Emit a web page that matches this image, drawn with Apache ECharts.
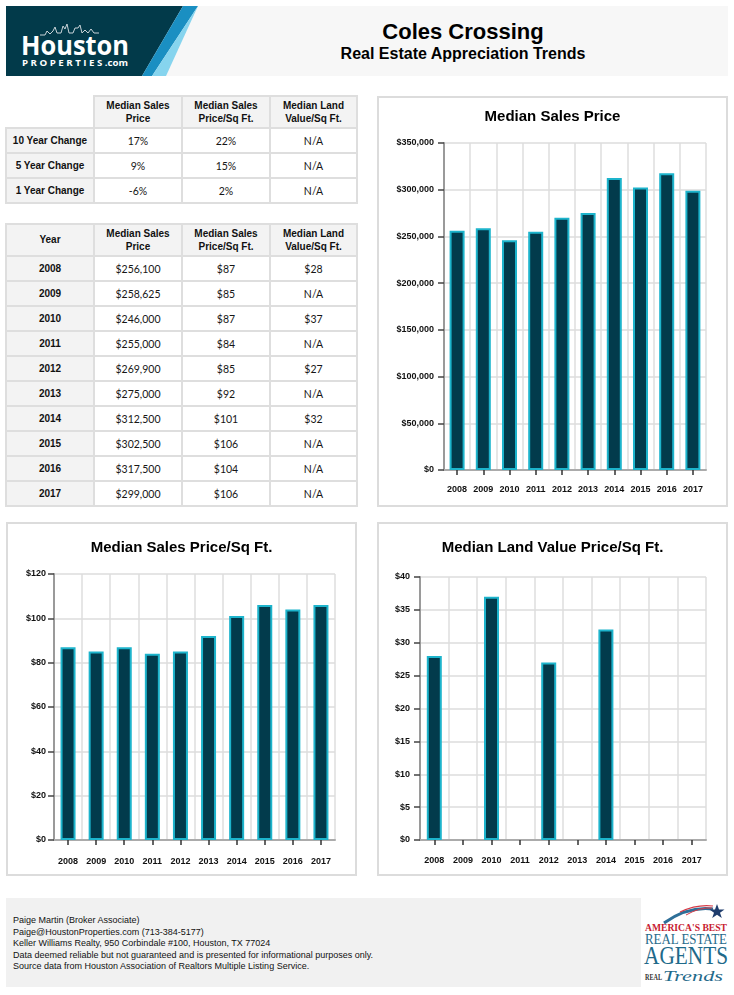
<!DOCTYPE html>
<html>
<head>
<meta charset="utf-8">
<script src="https://cdn.jsdelivr.net/npm/echarts@6.0.0/dist/echarts.min.js"></script>
<style>
  html, body { margin:0; padding:0; background:#fff; }
  body { width:734px; height:995px; position:relative; overflow:hidden; font-family:'Liberation Sans', Arial, sans-serif; }
  .abs { position:absolute; }
  .cell { position:absolute; box-sizing:border-box; border:2px solid #dedede; display:flex; align-items:center; justify-content:center; text-align:center;
          font-family:'Lato', sans-serif; font-size:10.5px; color:#161616; white-space:pre-line; line-height:12.5px; background:#fff; padding-top:1px; }
  .hd { background:#f3f3f3; font-family:'Liberation Sans', Arial, sans-serif; font-weight:bold; font-size:10px; color:#111; }
  .panel { position:absolute; box-sizing:border-box; border:2px solid #dcdcdc; background:#fff; }
  #chart { position:absolute; left:0; top:0; width:734px; height:995px; z-index:5; }
  .ttl { position:absolute; font-family:'Liberation Sans', Arial, sans-serif; font-weight:bold; color:#000; white-space:nowrap; transform:translateX(-50%); }
  #footer { position:absolute; left:6px; top:898px; width:635px; height:89px; background:#f1f1f1; }
  #footText { position:absolute; left:13px; top:915px; font-family:'Liberation Sans', Arial, sans-serif; font-size:9px; line-height:11.5px; color:#111; white-space:pre; }
</style>
</head>
<body>
<svg class="abs" style="left:0;top:0" width="734" height="80">
  <rect x="6" y="6" width="722" height="70" fill="#f7f7f7"/>
  <polygon points="6,6 183,6 142,76 6,76" fill="#023a4a"/>
  <polygon points="183,6 198,6 152,76 142,76" fill="#1a8fc2"/>
  <polygon points="198,6 166,76 152,76" fill="#86d4ee"/>
  <polyline points="40,35 45,35 47,31 50,34 53,31 55,27 57,33 61,33 63,26 65,29 67,24 69,33 73,33 75,28 78,28 80,25 82,33 85,30 88,33 91,29 94,33 99,33" fill="none" stroke="#c9d3d8" stroke-width="1"/>
  <text x="21" y="55" fill="#ffffff" font-family="'Open Sans', 'DejaVu Sans', sans-serif" font-weight="700" font-size="27" textLength="108" lengthAdjust="spacingAndGlyphs">Houston</text>
  <text x="22" y="66" fill="#ffffff" font-family="'Open Sans', 'DejaVu Sans', sans-serif" font-weight="700" font-size="9.5" textLength="106" lengthAdjust="spacingAndGlyphs">P R O P E R T I E S .com</text>
</svg>
<div class="ttl" id="mainTitle" style="left:463px; top:19px; font-size:22px;"></div>
<div class="ttl" id="subTitle" style="left:463px; top:45px; font-size:16px;"></div>

<div id="tables"></div>

<div class="panel" style="left:377px; top:96px; width:351px; height:411px;"></div>
<div class="panel" style="left:6px; top:522px; width:351px; height:354px;"></div>
<div class="panel" style="left:377px; top:522px; width:351px; height:354px;"></div>

<div id="footer"></div>
<div id="footText"></div>
<svg class="abs" style="left:0;top:0" width="734" height="995" pointer-events="none">
  <rect x="641" y="898" width="87" height="89" fill="#ffffff"/>
  <path d="M664,923 Q688,906 713,909" fill="none" stroke="#2e6f98" stroke-width="3"/>
  <path d="M680,912 Q697,904 713,906" fill="none" stroke="#d63b47" stroke-width="1.2"/>
  <path d="M686,915 Q700,907 712,908" fill="none" stroke="#d63b47" stroke-width="1"/>
  <polygon points="717,904 719,909.5 724.5,909.5 720,912.8 721.8,918 717,914.8 712.2,918 714,912.8 709.5,909.5 715,909.5" fill="#1f3d6d"/>
  <text x="645" y="931" fill="#c8202f" font-family="'Liberation Serif', 'DejaVu Serif', serif" font-weight="bold" font-size="11" textLength="82" lengthAdjust="spacingAndGlyphs">AMERICA'S BEST</text>
  <text x="645" y="944" fill="#1f6a8a" font-family="'Liberation Serif', 'DejaVu Serif', serif" font-size="14" textLength="82" lengthAdjust="spacingAndGlyphs">REAL ESTATE</text>
  <text x="644" y="964" fill="#1f6a8a" font-family="'Liberation Serif', 'DejaVu Serif', serif" font-size="25" textLength="84" lengthAdjust="spacingAndGlyphs">AGENTS</text>
  <text x="645" y="980" fill="#333" font-family="'Liberation Serif', 'DejaVu Serif', serif" font-weight="bold" font-size="8" textLength="17" lengthAdjust="spacingAndGlyphs">REAL</text>
  <text x="663" y="981" fill="#1f6a8a" font-family="'Liberation Serif', 'DejaVu Serif', serif" font-style="italic" font-size="14" textLength="60" lengthAdjust="spacingAndGlyphs">Trends</text>
</svg>

<div id="chart"></div>

<script>
// ---------------- DATA ----------------
const pageTitle = 'Coles Crossing';
const pageSubtitle = 'Real Estate Appreciation Trends';
const years = ['2008', '2009', '2010', '2011', '2012', '2013', '2014', '2015', '2016', '2017'];
const medianSalesPrice = [256100, 258625, 246000, 255000, 269900, 275000, 312500, 302500, 317500, 299000];
const medianPricePerSqFt = [87, 85, 87, 84, 85, 92, 101, 106, 104, 106];
const medianLandValuePerSqFt = [28, null, 37, null, 27, null, 32, null, null, null];

const columnHeaders = ['Median Sales\nPrice', 'Median Sales\nPrice/Sq Ft.', 'Median Land\nValue/Sq Ft.'];
const yearHeader = 'Year';
const changePeriods = ['10 Year Change', '5 Year Change', '1 Year Change'];
const changeSalesPrice = ['17%', '9%', '-6%'];
const changePricePerSqFt = ['22%', '15%', '2%'];
const changeLandValue = ['N/A', 'N/A', 'N/A'];

const chartTitles = ['Median Sales Price', 'Median Sales Price/Sq Ft.', 'Median Land Value Price/Sq Ft.'];
const salesPriceAxis = [0, 350000, 50000];
const pricePerSqFtAxis = [0, 120, 20];
const landValueAxis = [0, 40, 5];

const footerLines = [
  'Paige Martin (Broker Associate)',
  'Paige@HoustonProperties.com (713-384-5177)',
  'Keller Williams Realty, 950 Corbindale #100, Houston, TX 77024',
  'Data deemed reliable but not guaranteed and is presented for informational purposes only.',
  'Source data from Houston Association of Realtors Multiple Listing Service.'
];

// ---------------- TEXT ----------------
document.getElementById('mainTitle').textContent = pageTitle;
document.getElementById('subTitle').textContent = pageSubtitle;
document.getElementById('footText').textContent = footerLines.join('\n');

// ---------------- TABLES ----------------
const money = v => '$' + v.toLocaleString('en-US');
const orNA = v => (v === null || v === undefined) ? 'N/A' : money(v);
const tablesEl = document.getElementById('tables');
function cell(x0, x1, y0, y1, text, header) {
  const d = document.createElement('div');
  d.className = 'cell' + (header ? ' hd' : '');
  d.style.left = (x0 - 1) + 'px';
  d.style.top = (y0 - 1) + 'px';
  d.style.width = (x1 - x0 + 2) + 'px';
  d.style.height = (y1 - y0 + 2) + 'px';
  d.textContent = text;
  tablesEl.appendChild(d);
}
const colX = [6, 94, 182, 270, 357];
// table 1
const t1Y = [96, 128, 153, 178, 203];
for (let c = 0; c < 3; c++) cell(colX[c + 1], colX[c + 2], t1Y[0], t1Y[1], columnHeaders[c], true);
for (let r = 0; r < changePeriods.length; r++) {
  const y0 = t1Y[r + 1], y1 = t1Y[r + 2];
  cell(colX[0], colX[1], y0, y1, changePeriods[r], true);
  cell(colX[1], colX[2], y0, y1, changeSalesPrice[r], false);
  cell(colX[2], colX[3], y0, y1, changePricePerSqFt[r], false);
  cell(colX[3], colX[4], y0, y1, changeLandValue[r], false);
}
// table 2
const t2Top = 224, t2Head = 32, t2Row = 25;
cell(colX[0], colX[1], t2Top, t2Top + t2Head, yearHeader, true);
for (let c = 0; c < 3; c++) cell(colX[c + 1], colX[c + 2], t2Top, t2Top + t2Head, columnHeaders[c], true);
for (let r = 0; r < years.length; r++) {
  const y0 = t2Top + t2Head + r * t2Row, y1 = y0 + t2Row;
  cell(colX[0], colX[1], y0, y1, years[r], true);
  cell(colX[1], colX[2], y0, y1, money(medianSalesPrice[r]), false);
  cell(colX[2], colX[3], y0, y1, money(medianPricePerSqFt[r]), false);
  cell(colX[3], colX[4], y0, y1, orNA(medianLandValuePerSqFt[r]), false);
}

// ---------------- CHARTS ----------------
const FONT = "'Liberation Sans', Arial, sans-serif";
const BAR_FILL = '#023b4c';
const BAR_EDGE = '#1db4cc';
const grids = [
  { left: 444, top: 143, width: 262, height: 327 },
  { left: 54, top: 574, width: 281, height: 266 },
  { left: 420, top: 577, width: 286, height: 263 }
];
const titlePos = [[552.5, 109], [181.5, 540], [552.5, 540]];
const xMargins = [15, 17, 16];
const yMargins = [10, 8, 10];
const axes = [salesPriceAxis, pricePerSqFtAxis, landValueAxis];
const seriesData = [medianSalesPrice, medianPricePerSqFt, medianLandValuePerSqFt];

const chart = echarts.init(document.getElementById('chart'), null, { renderer: 'canvas' });
chart.setOption({
  animation: false,
  backgroundColor: 'transparent',
  title: chartTitles.map((t, i) => ({
    text: t, left: titlePos[i][0], top: titlePos[i][1], textAlign: 'center',
    textStyle: { fontFamily: FONT, fontWeight: 'bold', fontSize: 15, color: '#000' },
    padding: 0
  })),
  grid: grids.map(g => Object.assign({ containLabel: false, outerBoundsMode: 'none' }, g)),
  xAxis: grids.map((g, i) => ({
    type: 'category', gridIndex: i, data: years,
    axisLine: { show: true, lineStyle: { color: '#ababab', width: 2 } },
    axisTick: { show: true, alignWithLabel: true, length: 5, lineStyle: { color: '#333', width: 1.5 } },
    axisLabel: { interval: 0, margin: xMargins[i], fontFamily: FONT, fontWeight: 'bold', fontSize: 9, color: '#111' },
    splitLine: { show: true, interval: 0, lineStyle: { color: '#dedede', width: 1.5 } }
  })),
  yAxis: grids.map((g, i) => ({
    type: 'value', gridIndex: i, min: axes[i][0], max: axes[i][1], interval: axes[i][2],
    axisLine: { show: true, lineStyle: { color: '#9a9a9a', width: 2 } },
    axisTick: { show: true, length: 6, lineStyle: { color: '#444', width: 1.5 } },
    axisLabel: { margin: yMargins[i], fontFamily: FONT, fontWeight: 'bold', fontSize: 9, color: '#111',
                 formatter: v => '$' + v.toLocaleString('en-US') },
    splitLine: { show: true, lineStyle: { color: '#dcdcdc', width: 1.5 } }
  })),
  series: seriesData.map((d, i) => ({
    type: 'bar', xAxisIndex: i, yAxisIndex: i, data: d, barWidth: 15,
    itemStyle: { color: BAR_FILL, borderColor: BAR_EDGE, borderWidth: 2 }
  }))
});
</script>
</body>
</html>
